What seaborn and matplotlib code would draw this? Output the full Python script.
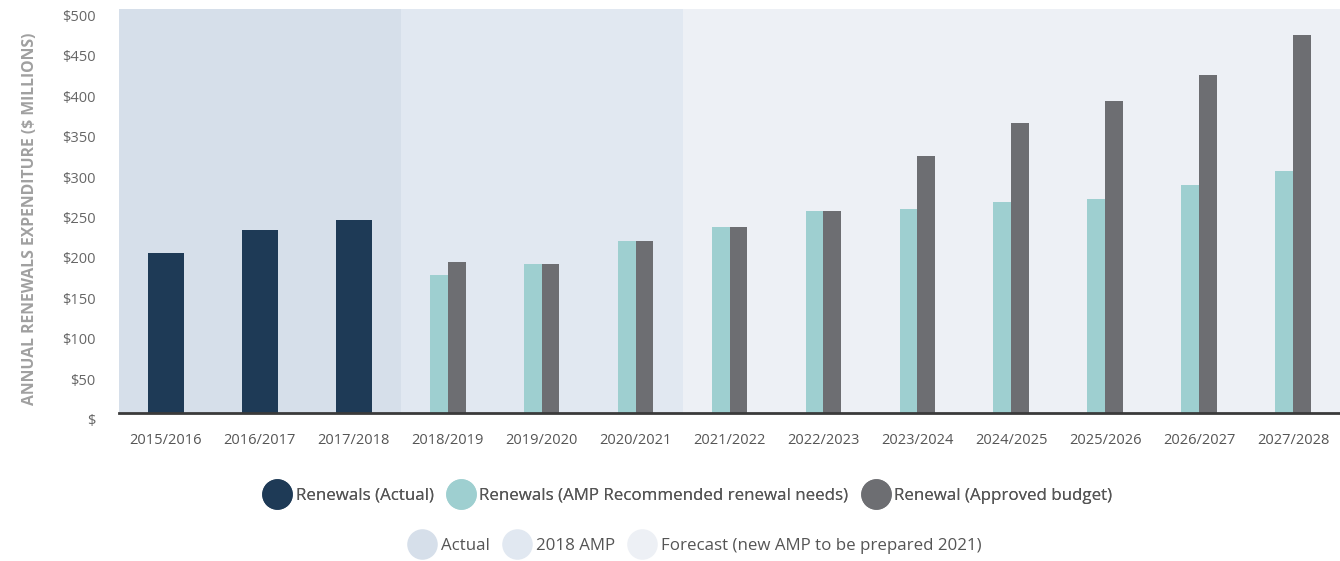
import matplotlib
matplotlib.use("Agg")
import matplotlib.pyplot as plt
import matplotlib.transforms as mtransforms
from matplotlib.lines import Line2D
import pandas as pd
import seaborn as sns

# Financial years shown on the x axis
years = ["2015/2016", "2016/2017", "2017/2018", "2018/2019", "2019/2020",
         "2020/2021", "2021/2022", "2022/2023", "2023/2024", "2024/2025",
         "2025/2026", "2026/2027", "2027/2028"]

# Actual renewals spend ($ millions)
actual_years = ["2015/2016", "2016/2017", "2017/2018"]
actual = [197, 226, 238]

# Planned period: AMP recommended needs vs approved budget ($ millions)
plan_years = ["2018/2019", "2019/2020", "2020/2021", "2021/2022", "2022/2023",
              "2023/2024", "2024/2025", "2025/2026", "2026/2027", "2027/2028"]
amp_needs = [170, 184, 212, 230, 249, 252, 261, 264, 282, 299]
approved = [186, 184, 212, 230, 249, 318, 358, 386, 418, 467]

y_ticks = [0, 50, 100, 150, 200, 250, 300, 350, 400, 450, 500]
y_tick_labels = ["$", "$50", "$100", "$150", "$200", "$250", "$300",
                 "$350", "$400", "$450", "$500"]

series_names = ["Renewals (Actual)",
                "Renewals (AMP Recommended renewal needs)",
                "Renewal (Approved budget)"]
period_names = ["Actual", "2018 AMP", "Forecast (new AMP to be prepared 2021)"]

c_actual = "#1e3a56"
c_needs = "#9ecfd0"
c_budget = "#6d6e72"
c_bg = ["#d6dfea", "#e1e8f1", "#edf0f5"]

sns.set_theme(style="white")
plt.rcParams["font.family"] = ["Open Sans", "DejaVu Sans"]

fig = plt.figure(figsize=(13.4, 5.61), dpi=100)
ax = fig.add_axes([119 / 1340, 1 - 412.5 / 561, 1 - 119 / 1340, (412.5 - 8.5) / 561])

# Shaded periods behind the bars
spans = [(-0.5, 2.5), (2.5, 5.5), (5.5, len(years) - 0.5)]
for (a, b), col in zip(spans, c_bg):
    ax.axvspan(a, b, color=col, lw=0, zorder=0)

df_actual = pd.DataFrame({"year": actual_years, "value": actual})
sns.barplot(data=df_actual, x="year", y="value", order=years, color=c_actual,
            width=0.38, saturation=1, ax=ax, zorder=2)

df_plan = pd.DataFrame({
    "year": plan_years * 2,
    "value": amp_needs + approved,
    "series": [series_names[1]] * len(plan_years) + [series_names[2]] * len(plan_years),
})
sns.barplot(data=df_plan, x="year", y="value", hue="series", order=years,
            hue_order=series_names[1:], palette=[c_needs, c_budget],
            dodge=True, width=0.38, saturation=1, ax=ax, zorder=2, legend=False)

for p in ax.patches:
    p.set_edgecolor("none")

ax.set_xlim(-0.5, len(years) - 0.5)
ax.set_ylim(0, 500)
ax.set_yticks(y_ticks)
ax.set_yticklabels(y_tick_labels)
ax.set_xlabel("")
ax.set_ylabel("")
ax.tick_params(axis="y", length=0, pad=17, labelsize=10.5, labelcolor="#666666")
ax.tick_params(axis="x", length=0, pad=15, labelsize=10.5, labelcolor="#555555")
shift = mtransforms.ScaledTranslation(0, -7 / 100, fig.dpi_scale_trans)
for lbl in ax.get_yticklabels():
    lbl.set_transform(lbl.get_transform() + shift)

for side in ["left", "right", "top"]:
    ax.spines[side].set_visible(False)
ax.spines["bottom"].set_color("#3a3a3a")
ax.spines["bottom"].set_linewidth(2)
ax.spines["bottom"].set_zorder(3)
ax.grid(False)

fig.text(30 / 1340, 1 - 219 / 561, "ANNUAL RENEWALS EXPENDITURE ($ MILLIONS)",
         rotation=90, ha="center", va="center", fontsize=11.3, fontweight="bold",
         color="#a0a0a0")

def circle(col):
    return Line2D([], [], marker="o", linestyle="none", markersize=22,
                  markerfacecolor=col, markeredgecolor="none")

legend_style = dict(loc="center", ncol=3, frameon=False, handlelength=1.6,
                    handletextpad=0.3, columnspacing=0.8, fontsize=12.2,
                    labelcolor="#555555", borderaxespad=0, borderpad=0)

leg1 = fig.legend([circle(c_actual), circle(c_needs), circle(c_budget)], series_names,
                  bbox_to_anchor=(688 / 1340, 1 - 496 / 561), **legend_style)
fig.add_artist(leg1)
fig.legend([circle(c) for c in c_bg], period_names,
           bbox_to_anchor=(695 / 1340, 1 - 546 / 561), **legend_style)

fig.savefig("out.png", dpi=100)
